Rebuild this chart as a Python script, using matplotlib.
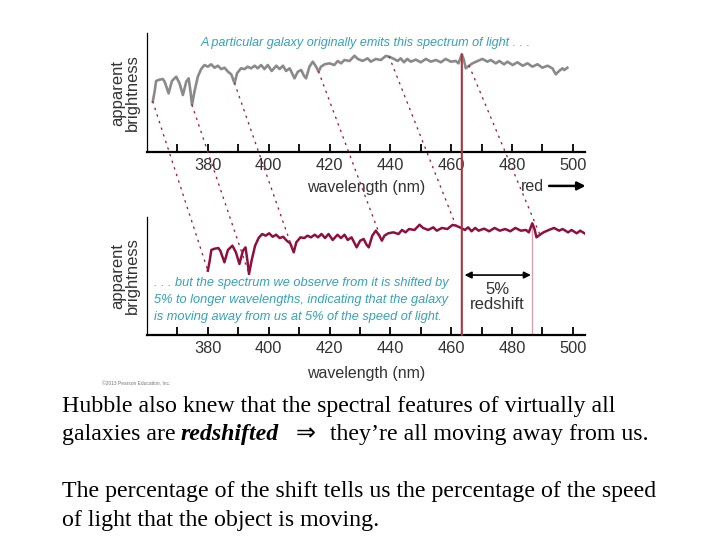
import matplotlib
matplotlib.use("Agg")
import matplotlib.pyplot as plt
from matplotlib import font_manager
from matplotlib.patches import ConnectionPatch

# spectrum emitted by the galaxy
emitted_nm = [361.9, 362.5, 363.0, 364.1, 365.2, 365.8, 367.1, 368.2, 369.6, 370.7,
              371.8, 372.9, 373.7, 374.3, 374.8, 375.6, 376.7, 377.8, 378.9, 380.0,
              381.1, 382.2, 383.3, 384.4, 385.5, 386.6, 387.7, 388.8, 389.6, 390.9,
              392.1, 393.1, 394.2, 395.4, 396.4, 397.5, 398.6, 399.7, 401.0, 402.5,
              403.6, 404.7, 405.7, 406.9, 408.5, 409.6, 410.7, 411.6, 412.3, 413.4,
              414.5, 415.6, 416.4, 417.2, 418.4, 420.0, 421.6, 422.7, 423.8, 424.9,
              426.6, 428.2, 429.3, 430.9, 432.5, 433.6, 435.2, 436.9, 438.5, 439.6,
              441.2, 442.4, 443.4, 444.5, 445.6, 446.7, 448.4, 450.0, 451.7, 453.3,
              455.0, 456.6, 458.2, 459.9, 461.5, 462.4, 463.5, 464.2, 464.8, 465.9,
              467.0, 468.7, 470.3, 471.9, 473.0, 474.7, 475.8, 477.4, 478.5, 480.2,
              481.8, 483.5, 485.1, 486.7, 488.4, 490.0, 491.7, 493.3, 494.4, 495.5,
              496.6, 497.2, 498.2]
brightness = [42.3, 50.7, 59.7, 60.8, 61.3, 59.1, 49.3, 59.7, 63.3, 57.7,
              47.9, 59.1, 61.9, 50.7, 39.5, 50.7, 63.3, 69.7, 73.1, 71.7,
              73.7, 70.8, 72.5, 69.7, 70.8, 67.5, 65.3, 57.7, 66.1, 70.3,
              69.7, 71.7, 70.3, 72.5, 70.3, 73.1, 69.7, 73.1, 68.1, 72.5,
              69.7, 72.5, 68.1, 70.3, 61.9, 67.5, 68.9, 64.1, 61.9, 71.7,
              75.9, 71.7, 67.5, 71.7, 73.7, 74.5, 73.1, 76.5, 74.5, 77.3,
              76.5, 80.9, 78.2, 76.5, 78.7, 75.9, 78.2, 77.3, 80.7, 80.1,
              78.2, 76.5, 78.7, 75.4, 78.2, 75.9, 77.6, 75.4, 78.2, 75.9,
              77.3, 75.4, 78.2, 75.9, 76.5, 74.5, 82.1, 77.3, 70.3, 72.5,
              74.5, 76.5, 78.2, 75.9, 77.3, 74.5, 76.5, 73.7, 75.9, 73.1,
              75.4, 72.5, 74.5, 71.7, 73.7, 70.8, 72.5, 70.3, 65.3, 68.1,
              70.3, 68.9, 70.8]

redshift = 0.05
observed_nm = [w * (1 + redshift) for w in emitted_nm]

# features joined by the dotted guide lines, and the marked emission line
guide_nm = [361.9, 374.8, 388.8, 416.4, 439.6, 465.9]
guide_b = [42.3, 39.5, 57.7, 67.5, 80.1, 72.5]
line_nm = 463.5
line_b = 82.1

tick_nm = [370, 380, 390, 400, 410, 420, 430, 440, 450, 460, 470, 480, 490, 500]
label_nm = [380, 400, 420, 440, 460, 480, 500]
grey_ticks = [400, 430]

top_note = "A particular galaxy originally emits this spectrum of light . . ."
bottom_note = (". . . but the spectrum we observe from it is shifted by\n"
               "5% to longer wavelengths, indicating that the galaxy\n"
               "is moving away from us at 5% of the speed of light.")


def pick_font(names, default):
    for n in names:
        try:
            font_manager.findfont(font_manager.FontProperties(family=n), fallback_to_default=False)
            return n
        except ValueError:
            pass
    return default


sans = pick_font(["Liberation Sans"], "DejaVu Sans")
serif = pick_font(["Liberation Serif"], "DejaVu Serif")
plt.rcParams["font.family"] = [sans, "DejaVu Sans"]

W, H = 720, 540
fig = plt.figure(figsize=(7.2, 5.4), dpi=100)


def fx(px):
    return px / W


def fy(py):
    return 1 - py / H


ax_top = fig.add_axes([fx(147), fy(152), fx(585) - fx(147), fy(33) - fy(152)])
ax_bot = fig.add_axes([fx(147), fy(335), fx(585) - fx(147), fy(217) - fy(335)])

ink = "#333333"
teal = "#34a2b6"
crimson = "#8e1040"

for ax, pad in ((ax_top, 5.5), (ax_bot, 7.5)):
    ax.set_xlim(360, 504)
    ax.set_xticks(tick_nm)
    ax.set_xticklabels([str(t) if t in label_nm else "" for t in tick_nm])
    ax.tick_params(axis="x", direction="in", length=5.5, width=1.3, color="black",
                   pad=4, labelsize=11.8, labelcolor=ink)
    for t, tk in zip(tick_nm, ax.xaxis.get_major_ticks()):
        if t in grey_ticks:
            tk.tick1line.set_color("#aaaaaa")
    ax.set_yticks([])
    ax.spines["top"].set_visible(False)
    ax.spines["right"].set_visible(False)
    ax.spines["left"].set_linewidth(0.9)
    ax.spines["bottom"].set_linewidth(1.6)
    ax.set_xlabel("wavelength (nm)", fontsize=11.5, color=ink, labelpad=pad)
    ax.set_ylabel("apparent\nbrightness", fontsize=12, color=ink, labelpad=5, linespacing=0.95)
    ax.patch.set_alpha(0)

ax_top.set_ylim(0, 100)
ax_bot.set_ylim(-11.8, 87.4)

ax_top.plot(emitted_nm, brightness, color="#8a8a8a", lw=1.9, zorder=3)
ax_bot.plot(observed_nm, brightness, color=crimson, lw=1.8, zorder=3)

xa_top = ax_top.get_xaxis_transform()
xa_bot = ax_bot.get_xaxis_transform()

ax_top.text(377.7, 0.916, top_note, transform=xa_top, fontsize=9.1, style="italic",
            color=teal, va="center", ha="left")
ax_bot.text(362.2, 0.297, bottom_note, transform=xa_bot, fontsize=9.2, style="italic",
            color=teal, va="center", ha="left", linespacing=1.58)

# "red ->" under the upper axis
ax_top.text(490.5, -0.294, "red", transform=xa_top, fontsize=11.5, color=ink,
            ha="right", va="center")
ax_top.annotate("", xy=(504.2, -0.285), xytext=(492.2, -0.285), xycoords=xa_top,
                textcoords=xa_top, annotation_clip=False,
                arrowprops=dict(arrowstyle="-|>", color="black", lw=1.8,
                                mutation_scale=12, shrinkA=0, shrinkB=0))

# dotted guides from each feature to its shifted position
for w, b in zip(guide_nm, guide_b):
    con = ConnectionPatch(xyA=(w, b), coordsA="data", axesA=ax_top,
                          xyB=(w * (1 + redshift), b), coordsB="data", axesB=ax_bot,
                          color="#a3203c", linestyle=(0, (1, 4)), linewidth=1.0, zorder=1)
    fig.add_artist(con)

# emission line marker across both panels, and its shifted position
fig.add_artist(ConnectionPatch(xyA=(line_nm, line_b), coordsA="data", axesA=ax_top,
                               xyB=(line_nm, 0), coordsB=xa_bot, axesB=ax_bot,
                               color="#a8353f", linewidth=1.5, zorder=2))
ax_bot.vlines(line_nm * (1 + redshift), -11.8, line_b, color="#d9a3ab", lw=1, zorder=2)
ax_bot.annotate("", xy=(line_nm * (1 + redshift), 0.508), xytext=(line_nm, 0.508),
                xycoords=xa_bot, textcoords=xa_bot,
                arrowprops=dict(arrowstyle="<|-|>", color="black", lw=1.2,
                                mutation_scale=10, shrinkA=2, shrinkB=1))
ax_bot.text(475.3, 0.322, "5%\nredshift", transform=xa_bot, fontsize=12, color=ink,
            ha="center", va="center", linespacing=1.05)

fig.text(fx(102), fy(384), "\u00a92013 Pearson Education, Inc.", fontsize=3.5,
         color="#777777", va="center")

# slide text
body = dict(family=[serif, "DejaVu Serif"], fontsize=17.2, color="black", va="baseline")
fig.text(fx(62), fy(412), "Hubble also knew that the spectral features of virtually all", **body)
fig.text(fx(62), fy(497), "The percentage of the shift tells us the percentage of the speed", **body)
fig.text(fx(62), fy(526), "of light that the object is moving.", **body)

renderer = fig.canvas.get_renderer()
segments = [("galaxies are", {}, 5),
            ("redshifted", {"weight": "bold", "style": "italic"}, 17),
            ("\u21d2", {"family": ["DejaVu Sans"]}, 14),
            ("they\u2019re all moving away from us.", {}, 0)]
x = 62
for piece, extra, gap in segments:
    kw = dict(body)
    kw.update(extra)
    t = fig.text(fx(x), fy(440), piece, **kw)
    x = t.get_window_extent(renderer).x1 + gap

fig.savefig("out.png", dpi=100)
